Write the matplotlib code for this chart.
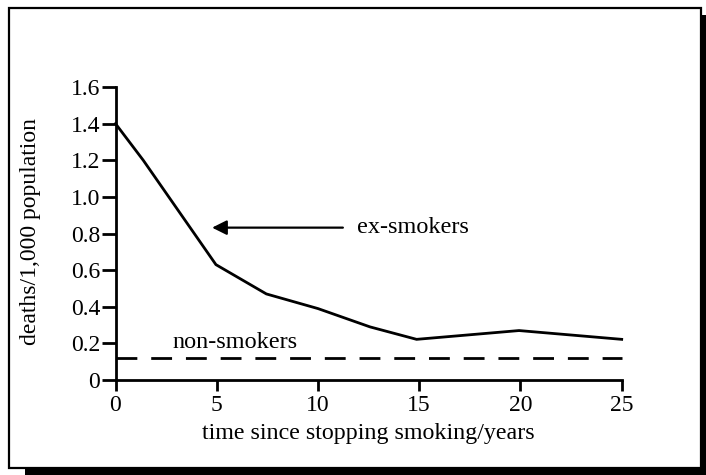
import matplotlib
matplotlib.use("Agg")
import matplotlib.pyplot as plt
from matplotlib.patches import Rectangle

plt.rcParams['font.family'] = ['Liberation Serif', 'DejaVu Serif']

# data
years = [0, 1.37, 4.96, 7.45, 10.0, 12.57, 14.87, 19.93, 25.0]
ex_smokers = [1.40, 1.20, 0.63, 0.47, 0.39, 0.29, 0.222, 0.27, 0.222]
non_smokers = 0.119
x_ticks = [0, 5, 10, 15, 20, 25]
y_ticks = [0, 0.2, 0.4, 0.6, 0.8, 1.0, 1.2, 1.4, 1.6]
y_ticklabels = ['0', '0.2', '0.4', '0.6', '0.8', '1.0', '1.2', '1.4', '1.6']

W, H = 706, 475
fig = plt.figure(figsize=(W / 100, H / 100), dpi=100)

# frame with drop shadow
fig.patches.append(Rectangle((25 / W, 0), 1 - 25 / W, 1 - 15 / H, transform=fig.transFigure,
                             fc='black', ec='none', zorder=-2))
fig.patches.append(Rectangle((9 / W, 1 - 468 / H), (701 - 9) / W, (468 - 8) / H,
                             transform=fig.transFigure, fc='white', ec='black', lw=1.6, zorder=-1))

ax = fig.add_axes([115.5 / W, 1 - 380 / H, (621.7 - 115.5) / W, (380 - 87) / H])
ax.set_zorder(2)
ax.patch.set_alpha(0)

ax.plot(years, ex_smokers, color='black', lw=2, solid_joinstyle='miter', clip_on=False)
ax.plot([0, 25], [non_smokers, non_smokers], color='black', lw=2, dashes=(7.5, 5), clip_on=False)

ax.annotate('', xy=(4.77, 0.832), xytext=(11.23, 0.832),
            arrowprops=dict(arrowstyle='-|>', color='black', lw=1.6, mutation_scale=22,
                            shrinkA=0, shrinkB=0))
ax.text(11.93, 0.832, 'ex-smokers', fontsize=17.5, va='center', ha='left')
ax.text(2.8, 0.204, 'non-smokers', fontsize=17.5, va='center', ha='left')

ax.set_xlim(0, 25)
ax.set_ylim(0, 1.6)
ax.set_xticks(x_ticks)
ax.set_yticks(y_ticks)
ax.set_yticklabels(y_ticklabels)
ax.tick_params(axis='both', direction='out', width=2, labelsize=17, color='black')
ax.tick_params(axis='y', length=10, pad=1)
ax.tick_params(axis='x', length=8, pad=3)
for s in ['top', 'right']:
    ax.spines[s].set_visible(False)
for s in ['left', 'bottom']:
    ax.spines[s].set_linewidth(2)

fig.text(368 / W, 1 - 433 / H, 'time since stopping smoking/years', fontsize=17.3,
         ha='center', va='center')
fig.text(31 / W, 1 - 232 / H, 'deaths/1,000 population', fontsize=17, rotation=90,
         ha='center', va='center')

fig.savefig('out.png', dpi=100)
